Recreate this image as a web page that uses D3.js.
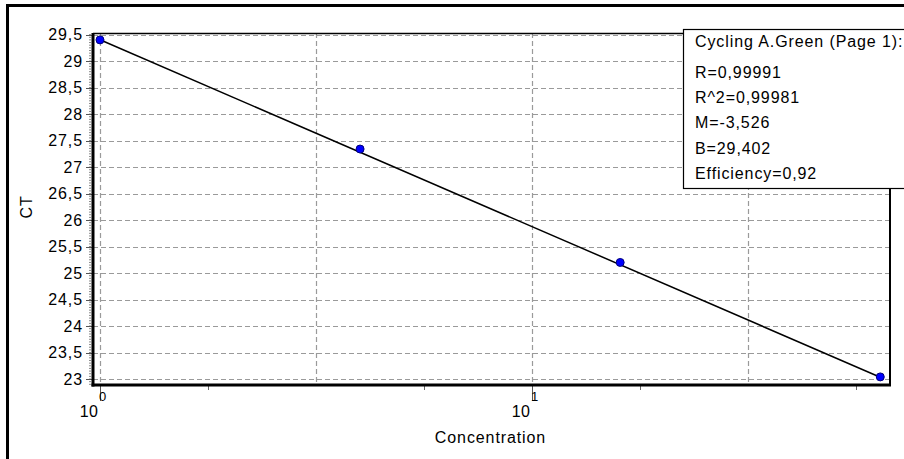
<!DOCTYPE html>
<html>
<head>
<meta charset="utf-8">
<script src="https://cdn.jsdelivr.net/npm/d3@7/dist/d3.min.js"></script>
<style>
  html, body { margin: 0; padding: 0; background: #fff; }
  svg { display: block; font-family: "Liberation Sans", Arial, sans-serif; }
  svg text { letter-spacing: 0.9px; }
  svg text.xl { letter-spacing: 0.5px; }
</style>
</head>
<body>
<svg id="chart" width="904" height="459"></svg>
<script>
// ---- data ----
const concentrations = [1, 4, 16, 64];
const ctValues = [29.40, 27.34, 25.20, 23.04];
const fitLine = [[1, 29.402], [64, 23.034]];
const yTicks = [23, 23.5, 24, 24.5, 25, 25.5, 26, 26.5, 27, 27.5, 28, 28.5, 29, 29.5];
const xLabelTicks = [1, 10];
const xLabelExponents = ["0", "1"];
const xGridTicks = [1, Math.pow(10, 0.5), 10, Math.pow(10, 1.5)];
const xMinorTicks = [Math.pow(10, 0.25), Math.pow(10, 0.75), Math.pow(10, 1.25), Math.pow(10, 1.75)];
const legendTitle = "Cycling A.Green (Page 1):";
const legendLines = ["R=0,99991", "R^2=0,99981", "M=-3,526", "B=29,402", "Efficiency=0,92"];
const xTitle = "Concentration";
const yTitle = "CT";

// ---- layout ----
const L = 93, R = 890, T = 33, B = 385;
const svg = d3.select("#chart");

const x = d3.scaleLog().domain([Math.pow(10, -0.0162), Math.pow(10, 1.8287)]).range([L, R]);
const y = d3.scaleLinear().domain([22.906, 29.53]).range([384, T]);

const fmt = v => String(v).replace(".", ",");

// outer frame
svg.append("line").attr("x1", 6).attr("x2", 904).attr("y1", 5.5).attr("y2", 5.5)
  .attr("stroke", "#000").attr("stroke-width", 3);
svg.append("line").attr("x1", 7.5).attr("x2", 7.5).attr("y1", 4).attr("y2", 459)
  .attr("stroke", "#000").attr("stroke-width", 3);

// plot background
svg.append("rect").attr("x", L).attr("y", T).attr("width", R - L).attr("height", B - T).attr("fill", "#fff");

// horizontal grid
svg.append("g").selectAll("line").data(yTicks).join("line")
  .attr("x1", L).attr("x2", R)
  .attr("y1", d => Math.round(y(d)) + 0.5).attr("y2", d => Math.round(y(d)) + 0.5)
  .attr("stroke", "#9a9a9a").attr("stroke-width", 1.2).attr("stroke-dasharray", "5,3");

// vertical grid
svg.append("g").selectAll("line").data(xGridTicks).join("line")
  .attr("x1", d => Math.round(x(d)) + 0.5).attr("x2", d => Math.round(x(d)) + 0.5)
  .attr("y1", T).attr("y2", B)
  .attr("stroke", "#9a9a9a").attr("stroke-width", 1.2).attr("stroke-dasharray", "5,3");

// y axis minor ticks (dotted look)
const yMinor = d3.range(0, 134).map(i => 22.9 + i * 0.05).filter(v => v <= 29.53);
svg.append("g").selectAll("line").data(yMinor).join("line")
  .attr("x1", 89).attr("x2", 91)
  .attr("y1", d => y(d)).attr("y2", d => y(d))
  .attr("stroke", "#8a8a8a").attr("stroke-width", 1);

// y axis major ticks
svg.append("g").selectAll("line").data(yTicks).join("line")
  .attr("x1", 86).attr("x2", L)
  .attr("y1", d => Math.round(y(d)) + 0.5).attr("y2", d => Math.round(y(d)) + 0.5)
  .attr("stroke", "#555").attr("stroke-width", 1);

// y tick labels
svg.append("g").selectAll("text").data(yTicks).join("text")
  .attr("x", 83).attr("y", d => y(d))
  .attr("text-anchor", "end").attr("dominant-baseline", "central")
  .attr("font-size", 16).attr("fill", "#000")
  .text(d => fmt(d));

// x minor ticks
svg.append("g").selectAll("line").data(xMinorTicks).join("line")
  .attr("x1", d => Math.round(x(d)) + 0.5).attr("x2", d => Math.round(x(d)) + 0.5)
  .attr("y1", B).attr("y2", B + 5)
  .attr("stroke", "#666").attr("stroke-width", 1);

// x major ticks
svg.append("g").selectAll("line").data(xLabelTicks).join("line")
  .attr("x1", d => Math.round(x(d)) + 0.5).attr("x2", d => Math.round(x(d)) + 0.5)
  .attr("y1", B).attr("y2", 401)
  .attr("stroke", "#555").attr("stroke-width", 1);

// x labels
const xl = svg.append("g").selectAll("g").data(xLabelTicks).join("g");
xl.append("text").attr("class", "xl")
  .attr("x", d => x(d) - 1.5).attr("y", 417)
  .attr("text-anchor", "end").attr("font-size", 16).attr("fill", "#000")
  .text("10");
xl.append("text").attr("class", "xl")
  .attr("x", (d, i) => x(d) - 1).attr("y", 401)
  .attr("font-size", 13).attr("fill", "#000")
  .text((d, i) => xLabelExponents[i]);

// axis title
svg.append("text").attr("x", (L + R) / 2 - 1).attr("y", 443)
  .attr("text-anchor", "middle").attr("font-size", 16).attr("fill", "#000")
  .text(xTitle);
svg.append("text")
  .attr("transform", "translate(32,207) rotate(-90)")
  .attr("text-anchor", "middle").attr("font-size", 16).attr("fill", "#000")
  .text(yTitle);

// fit line
svg.append("path").datum(fitLine)
  .attr("d", d3.line().x(d => x(d[0])).y(d => y(d[1])))
  .attr("fill", "none").attr("stroke", "#000").attr("stroke-width", 1.5);

// plot frame
svg.append("line").attr("x1", L).attr("x2", R + 1).attr("y1", T + 0.5).attr("y2", T + 0.5)
  .attr("stroke", "#000").attr("stroke-width", 1.5);
svg.append("line").attr("x1", R).attr("x2", R).attr("y1", T).attr("y2", B + 1)
  .attr("stroke", "#000").attr("stroke-width", 2);
svg.append("line").attr("x1", L - 1.5).attr("x2", R + 1).attr("y1", B).attr("y2", B)
  .attr("stroke", "#000").attr("stroke-width", 3);
svg.append("line").attr("x1", L).attr("x2", L).attr("y1", T).attr("y2", B + 1.5)
  .attr("stroke", "#000").attr("stroke-width", 3);

// points
const pts = concentrations.map((c, i) => [c, ctValues[i]]);
svg.append("g").selectAll("circle").data(pts).join("circle")
  .attr("cx", d => x(d[0])).attr("cy", d => y(d[1])).attr("r", 4)
  .attr("fill", "#0000ff").attr("stroke", "#00007a").attr("stroke-width", 1);

// legend box
svg.append("rect").attr("x", 683.5).attr("y", 29.5).attr("width", 240).attr("height", 159)
  .attr("fill", "#fff").attr("stroke", "#000").attr("stroke-width", 1.2);
svg.append("text").attr("x", 695).attr("y", 47).attr("font-size", 16).attr("fill", "#000")
  .text(legendTitle);
svg.append("g").selectAll("text").data(legendLines).join("text")
  .attr("x", 695).attr("y", (d, i) => 78 + i * 25.2)
  .attr("font-size", 16).attr("fill", "#000")
  .text(d => d);
</script>
</body>
</html>
